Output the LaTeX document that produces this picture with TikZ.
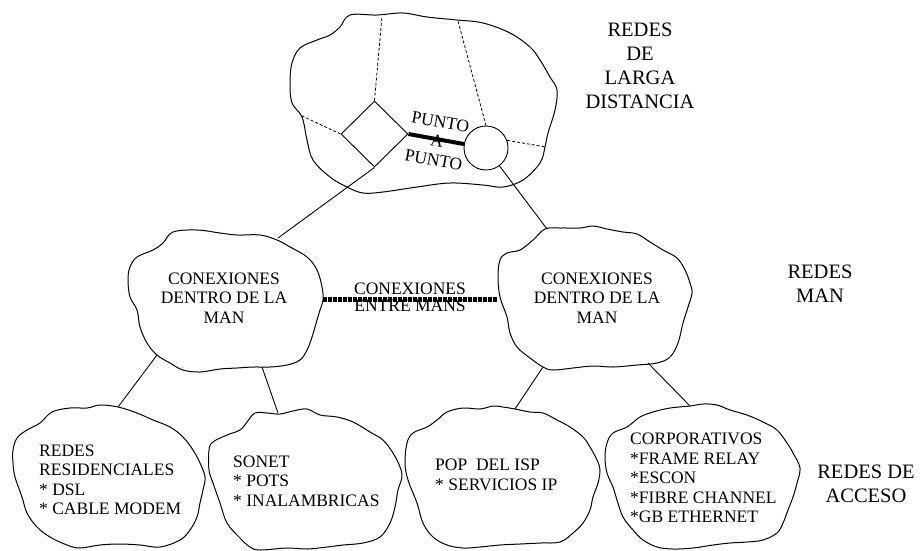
\documentclass[tikz,border=0pt]{standalone}
\usepackage{fontspec}
\setmainfont{Liberation Serif}
\usetikzlibrary{shapes.geometric}
\tikzstyle{nube} = [line width=1pt, line join=round]
\tikzstyle{txt} = [inner sep=0pt, font=\fontsize{17.5}{19.5}\selectfont]
\tikzstyle{rotulo} = [inner sep=0pt, align=center, font=\fontsize{20.5}{24}\selectfont]
\tikzstyle{enlace} = [line width=0.9pt]
\tikzstyle{punteada} = [line width=0.8pt, dash pattern=on 3pt off 2pt]

\begin{document}
\begin{tikzpicture}[x=1pt, y=-1pt]
    \useasboundingbox (0,0) rectangle (920,550);

    % nubes
    \draw[nube] plot[smooth cycle, tension=0.6] coordinates {(350,15) (377,15) (403,13) (427,17) (457,20) (483,23) (510,33) (530,47) (540,60) (550,77) (557,90) (555,110) (548,133) (545,147) (540,163) (523,180) (503,187) (483,185) (450,183) (417,187) (383,192) (363,193) (347,187) (330,177) (313,160) (307,140) (302,117) (292,103) (290,83) (292,63) (300,48) (317,40) (330,35) (340,27)};
    \draw[nube] plot[smooth cycle, tension=0.6] coordinates {(173,232) (197,230) (220,233) (237,235) (260,235) (277,240) (290,247) (307,257) (317,270) (322,287) (323,300) (320,310) (317,320) (312,337) (307,350) (300,360) (287,365) (270,367) (253,367) (237,368) (220,369) (200,372) (183,370) (170,363) (157,355) (147,343) (140,327) (137,310) (130,297) (128,280) (130,267) (137,257) (153,250) (163,243)};
    \draw[nube] plot[smooth cycle, tension=0.6] coordinates {(545,229) (560,228) (580,228) (593,226) (607,229) (623,232) (637,234) (650,242) (663,250) (677,258) (685,270) (690,283) (692,293) (688,307) (683,323) (678,343) (670,357) (657,363) (637,365) (613,367) (593,366) (573,368) (553,370) (543,367) (530,358) (517,347) (510,333) (507,317) (500,297) (498,277) (500,260) (507,253) (520,250) (533,240)};
    \draw[nube] plot[smooth cycle, tension=0.6] coordinates {(52,412) (70,408) (87,408) (100,405) (118,407) (137,413) (153,420) (170,427) (183,437) (193,450) (200,463) (205,477) (203,490) (200,503) (197,517) (190,530) (180,540) (160,547) (140,545) (120,544) (100,545) (80,548) (67,545) (50,537) (37,527) (27,513) (22,497) (15,477) (13,463) (13,450) (17,438) (27,430) (40,423)};
    \draw[nube] plot[smooth cycle, tension=0.6] coordinates {(255,413) (267,413) (280,414) (293,411) (307,409) (320,415) (337,417) (353,422) (370,432) (383,440) (393,453) (400,467) (402,477) (398,490) (395,507) (390,523) (380,537) (363,543) (343,545) (327,547) (307,549) (287,548) (260,550) (250,547) (240,538) (227,523) (220,503) (213,483) (209,470) (209,450) (213,442) (227,435) (240,430) (247,422)};
    \draw[nube] plot[smooth cycle, tension=0.6] coordinates {(447,412) (463,408) (480,409) (493,406) (503,407) (515,409) (530,412) (543,413) (557,420) (570,427) (583,437) (590,447) (597,460) (600,470) (598,483) (593,497) (590,510) (583,523) (573,533) (560,542) (540,543) (520,544) (500,545) (480,547) (463,548) (447,545) (433,537) (423,523) (417,503) (408,480) (405,463) (407,443) (413,433) (427,427) (437,420)};
    \draw[nube] plot[smooth cycle, tension=0.6] coordinates {(640,417) (653,412) (670,408) (690,406) (703,404) (717,405) (730,410) (747,415) (763,422) (777,430) (787,443) (793,453) (800,468) (797,483) (793,497) (788,510) (783,523) (777,533) (763,540) (747,542) (730,543) (713,545) (693,548) (673,549) (657,547) (643,540) (633,530) (623,517) (617,500) (613,487) (607,473) (605,457) (607,443) (613,433) (627,427)};

    % puntos de enlace en los bordes
    \coordinate (wanT1) at (382,16);
    \coordinate (wanL) at (300,115);
    \coordinate (wanT2) at (458,21);
    \coordinate (wanR) at (546,147);
    \coordinate (manLt) at (278,238);
    \coordinate (manLr) at (323,299);
    \coordinate (manLb1) at (157,355);
    \coordinate (manLb2) at (262,367);
    \coordinate (manRt) at (547,229);
    \coordinate (manRl) at (498,299);
    \coordinate (manRb1) at (543,367);
    \coordinate (manRb2) at (648,363);
    \coordinate (resT) at (118,407);
    \coordinate (sonT) at (278,413);
    \coordinate (popT) at (515,409);
    \coordinate (corT) at (690,406);

    % equipos de la red de larga distancia
    \node[diamond, draw, line width=0.9pt, inner sep=0pt, minimum width=67pt, minimum height=66pt] (sw) at (374.5,134) {};
    \node[circle, draw, line width=0.9pt, inner sep=0pt, minimum size=44pt] (rt) at (486,148) {};

    % textos
    \node[txt, align=center, rotate=-10] (punto) at (437,141) {PUNTO\\A\\PUNTO};
    \node[txt, align=center] (manL) at (224,298) {CONEXIONES\\DENTRO DE LA\\MAN};
    \node[txt, align=center] (manR) at (597,298) {CONEXIONES\\DENTRO DE LA\\MAN};
    \node[txt, align=left, anchor=west] (res) at (39,480) {REDES\\RESIDENCIALES\\* DSL\\* CABLE MODEM};
    \node[txt, align=left, anchor=west] (son) at (233,481) {SONET\\* POTS\\* INALAMBRICAS};
    \node[txt, align=left, anchor=west] (pop) at (435,475) {POP\ \ DEL ISP\\* SERVICIOS IP};
    \node[txt, align=left, anchor=west] (cor) at (630,478) {CORPORATIVOS\\*FRAME RELAY\\*ESCON\\*FIBRE CHANNEL\\*GB ETHERNET};
    \node[rotulo] (lblWan) at (640,66) {REDES\\DE\\LARGA\\DISTANCIA};
    \node[rotulo] (lblMan) at (820,284) {REDES\\MAN};
    \node[rotulo] (lblAcc) at (866,484) {REDES DE\\ACCESO};

    % enlaces
    \path[punteada]
        (sw.north) edge (wanT1)
        (sw.west) edge (wanL)
        (rt.north) edge (wanT2)
        (rt.20) edge (wanR)
    ;
    \path[enlace]
        (sw.south) edge (manLt)
        (rt) edge (manRt)
        (manLb1) edge (resT)
        (manLb2) edge (sonT)
        (manRb1) edge (popT)
        (manRb2) edge (corT)
    ;
    \draw[line width=4pt] (sw.east) -- (rt);
    \draw[line width=5pt, dash pattern=on 3.5pt off 1.5pt] (manLr) -- (manRl);
    \node[txt, align=center, font=\fontsize{17.5}{17}\selectfont] (entre) at (410,297) {CONEXIONES\\ENTRE MANS};

\end{tikzpicture}
\end{document}
